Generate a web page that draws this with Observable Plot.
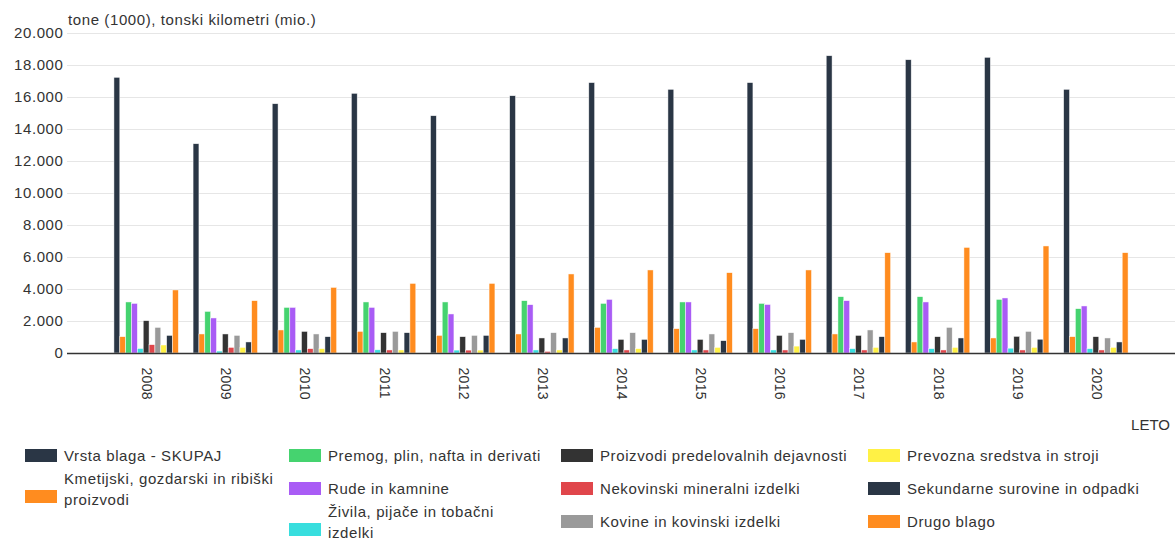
<!DOCTYPE html>
<html>
<head>
<meta charset="utf-8">
<script src="https://cdn.jsdelivr.net/npm/d3@7"></script>
<script src="https://cdn.jsdelivr.net/npm/@observablehq/plot@0.6"></script>
<style>
  html, body { margin: 0; padding: 0; background: #fff; }
  body { font-family: "Liberation Sans", Arial, sans-serif; color: #333; }
  #wrap { position: relative; width: 1175px; height: 545px; }
  #title { position: absolute; left: 68px; top: 11px; font-size: 15px; letter-spacing: 0.6px; color: #333; }
  #leto { position: absolute; right: 5px; top: 416px; font-size: 15px; color: #333; }
  #legend { position: absolute; top: 439px; left: 0; width: 1175px; height: 106px; }
  .col { position: absolute; top: 0; }
  .item { height: 33px; display: flex; align-items: center; font-size: 15px; letter-spacing: 0.6px; color: #333; line-height: 21px; }
  .sw { width: 32px; height: 13px; flex: none; margin-right: 7px; position: relative; }
  #chart svg g[aria-label="x-axis tick label"] text { letter-spacing: 0.3px; }
</style>
</head>
<body>
<div id="wrap">
  <div id="chart"></div>
  <div id="title">tone (1000), tonski kilometri (mio.)</div>
  <div id="leto">LETO</div>
  <div id="legend"></div>
</div>
<script>
const years = [2008, 2009, 2010, 2011, 2012, 2013, 2014, 2015, 2016, 2017, 2018, 2019, 2020];

const seriesNames = [
  "Vrsta blaga - SKUPAJ",
  "Kmetijski, gozdarski in ribiški proizvodi",
  "Premog, plin, nafta in derivati",
  "Rude in kamnine",
  "Živila, pijače in tobačni izdelki",
  "Proizvodi predelovalnih dejavnosti",
  "Nekovinski mineralni izdelki",
  "Kovine in kovinski izdelki",
  "Prevozna sredstva in stroji",
  "Sekundarne surovine in odpadki",
  "Drugo blago"
];

const seriesColors = ["#2a3645", "#ff8c1f", "#45d36f", "#a95cf5", "#38dede", "#333333", "#e0464b", "#9a9a9a", "#fff145", "#2a3645", "#ff8c1f"];

const skupaj      = [17230, 13080, 15580, 16230, 14830, 16080, 16900, 16480, 16900, 18580, 18330, 18480, 16480];
const kmetijski   = [1020, 1190, 1440, 1350, 1100, 1190, 1600, 1520, 1520, 1190, 690, 940, 1020];
const premog      = [3190, 2600, 2850, 3190, 3190, 3270, 3100, 3190, 3100, 3520, 3520, 3350, 2770];
const rude        = [3100, 2190, 2850, 2850, 2440, 3020, 3350, 3190, 3030, 3270, 3190, 3440, 2940];
const zivila      = [280, 120, 190, 200, 180, 190, 270, 190, 190, 270, 270, 300, 270];
const proizvodi   = [2020, 1190, 1350, 1270, 1020, 940, 850, 850, 1100, 1100, 1020, 1040, 1020];
const nekovinski  = [520, 350, 270, 190, 180, 100, 190, 190, 190, 190, 190, 190, 190];
const kovine      = [1600, 1100, 1190, 1350, 1100, 1270, 1270, 1190, 1270, 1440, 1600, 1350, 940];
const prevozna    = [500, 350, 270, 190, 180, 190, 270, 350, 430, 350, 350, 350, 350];
const sekundarne  = [1100, 690, 1020, 1270, 1100, 940, 850, 770, 850, 1020, 940, 860, 690];
const drugo       = [3940, 3270, 4100, 4350, 4350, 4940, 5190, 5020, 5190, 6270, 6600, 6690, 6270];

const yTicks = [0, 2000, 4000, 6000, 8000, 10000, 12000, 14000, 16000, 18000, 20000];

const allSeries = [skupaj, kmetijski, premog, rude, zivila, proizvodi, nekovinski, kovine, prevozna, sekundarne, drugo];

// Each year occupies one unit on a linear x scale; bars are laid out side by side around the year.
const slot = 0.074;
const n = allSeries.length;
const data = [];
years.forEach((yr, i) => {
  allSeries.forEach((s, k) => {
    const x1 = yr + (k - n / 2) * slot;
    data.push({year: yr, series: seriesNames[k], k, value: s[i], x1, x2: x1 + slot});
  });
});

const loc = d3.formatLocale({decimal: ",", thousands: ".", grouping: [3], currency: ["", ""]});
const fmt = loc.format(",");

const plot = Plot.plot({
  width: 1175,
  height: 440,
  marginLeft: 67,
  marginRight: 0,
  marginTop: 33,
  marginBottom: 87,
  style: {fontFamily: "'Liberation Sans', Arial, sans-serif", fontSize: "15px", letterSpacing: "0.6px", color: "#333", background: "#fff"},
  x: {domain: [2007, 2021]},
  y: {domain: [0, 20000]},
  marks: [
    Plot.gridY(yTicks, {stroke: "#e6e6e6", strokeOpacity: 1, strokeWidth: 1}),
    Plot.rectY(data, {x1: "x1", x2: "x2", y: "value", fill: d => seriesColors[d.k], stroke: "#fff", strokeWidth: 0.6, strokeOpacity: 0.8}),
    Plot.ruleY([0], {stroke: "#333", strokeWidth: 1.5}),
    Plot.axisY(yTicks, {tickSize: 0, tickPadding: 4, tickFormat: fmt, label: null, fontSize: 15, fill: "#333"}),
    Plot.axisX(years, {tickSize: 0, tickPadding: 14, tickRotate: 90, tickFormat: d => String(d), label: null, fontSize: 14, fill: "#333"})
  ]
});
document.getElementById("chart").appendChild(plot);

// Legend (column-major, 4 columns)
const legendColumns = [[0, 1], [2, 3, 4], [5, 6, 7], [8, 9, 10]];
const colLeft = [25, 289, 561, 868];
const colTextWidth = [222, 214, 270, 270];
const legend = document.getElementById("legend");
legendColumns.forEach((col, ci) => {
  const c = document.createElement("div");
  c.className = "col";
  c.style.left = colLeft[ci] + "px";
  col.forEach(k => {
    const it = document.createElement("div");
    it.className = "item";
    const sw = document.createElement("div");
    sw.className = "sw";
    sw.style.background = seriesColors[k];
    const tx = document.createElement("div");
    tx.textContent = seriesNames[k];
    tx.style.maxWidth = colTextWidth[ci] + "px";
    it.appendChild(sw);
    it.appendChild(tx);
    c.appendChild(it);
  });
  legend.appendChild(c);
});
// Wrapped legend labels: symbol sits lower, beside the second line
legend.querySelectorAll(".item").forEach(it => {
  const tx = it.lastChild;
  if (tx.getBoundingClientRect().height > 30) it.firstChild.style.top = "8px";
});
</script>
</body>
</html>
